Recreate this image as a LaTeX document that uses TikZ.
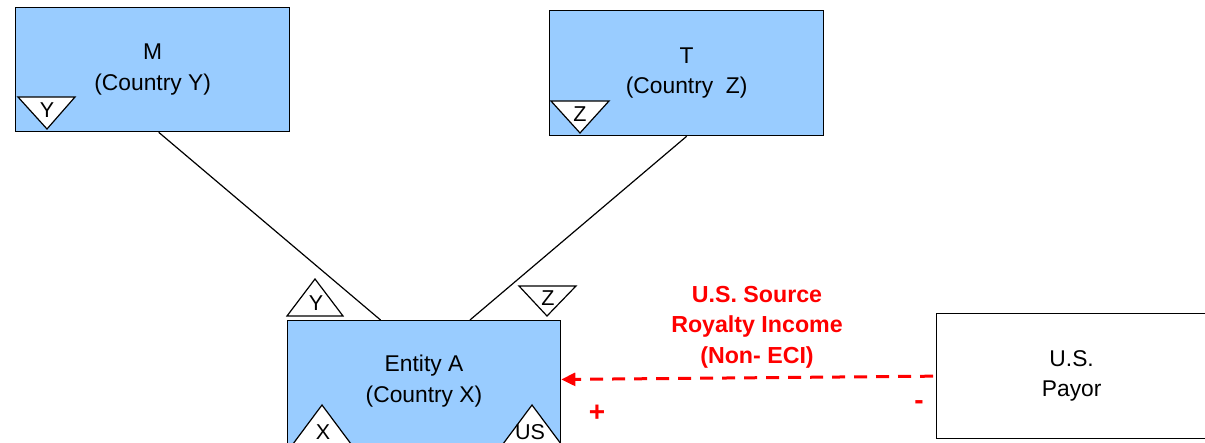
\documentclass[tikz,border=0pt]{standalone}
\usepackage{fontspec}
\setmainfont{Liberation Sans}
\usetikzlibrary{arrows.meta,calc}
\definecolor{boxblue}{HTML}{99CCFF}
\definecolor{flowred}{HTML}{FF0000}
\begin{document}
\begin{tikzpicture}[x=1pt,y=-1pt,
  box/.style={draw=black,line width=1.3pt,fill=boxblue,anchor=north west,inner sep=0pt,
    align=center,font=\fontsize{22.8}{30.5}\selectfont},
  wbox/.style={draw=black,line width=1.3pt,fill=white,anchor=north west,inner sep=0pt,
    align=center,font=\fontsize{22.8}{30.5}\selectfont},
  txt/.style={align=center,font=\fontsize{22.8}{30.5}\selectfont,inner sep=0pt},
  tri/.style={draw=black,line width=1.2pt,fill=white,line join=miter},
  trilbl/.style={inner sep=0pt,font=\fontsize{21.5}{22}\selectfont},
  conn/.style={draw=black,line width=1.2pt},
  flow/.style={draw=flowred,line width=3pt,dash pattern=on 13pt off 9pt,
    -{Triangle[length=14pt,width=13pt]}},
  redlbl/.style={text=flowred,align=center,inner sep=0pt,
    font=\fontsize{23.2}{30.5}\selectfont\bfseries},
  sign/.style={text=flowred,inner sep=0pt,font=\fontsize{28}{30}\selectfont\bfseries},
]
\useasboundingbox (0,0) rectangle (1205,443);
\clip (0,0) rectangle (1205,443);

% boxes
\node[box,minimum width=274pt,minimum height=124pt] (M) at (15,7) {M\\(Country Y)};
\node[box,minimum width=274pt,minimum height=125pt] (T) at (549,10) {T\\(Country\ \ Z)};
\node[box,minimum width=273pt,minimum height=150pt] (A) at (287,320) {};
\node[txt] (Atext) at (424,381) {Entity A\\(Country X)};
\node[wbox,minimum width=270pt,minimum height=125pt] (P) at (936,313) {U.S.\\Payor};

% connectors
\draw[conn] ($(M.south west)!0.522!(M.south east)$) -- ($(A.north west)!0.341!(A.north east)$);
\draw[conn] (T.south) -- ($(A.north west)!0.667!(A.north east)$);

% red flow
\draw[flow,shorten <=3pt] (P.west) -- ($(A.north east)!0.393!(A.south east)$);
\node[redlbl] (lbl) at (757,327) {U.S. Source\\Royalty Income\\(Non- ECI)};
\node[sign] (plus) at (597,413) {+};
\node[sign] (minus) at (919,405) {-};

% country triangles
\draw[tri] (18,97) -- (75,97) -- (47,129) -- cycle;
\node[trilbl] (tM) at (47,110) {Y};
\draw[tri] (551,101) -- (609,101) -- (580,133) -- cycle;
\node[trilbl] (tT) at (580,114) {Z};
\draw[tri] (287,316) -- (343,316) -- (315,279) -- cycle;
\node[trilbl] (tAY) at (316,303) {Y};
\draw[tri] (519,286) -- (576,286) -- (547,316) -- cycle;
\node[trilbl] (tAZ) at (548,298) {Z};
\draw[tri] (287,452) -- (357,452) -- (322,405) -- cycle;
\node[trilbl] (tAX) at (323,432) {X};
\draw[tri] (497,452) -- (567,452) -- (532,405) -- cycle;
\node[trilbl] (tAUS) at (530,432) {US};
\end{tikzpicture}
\end{document}
